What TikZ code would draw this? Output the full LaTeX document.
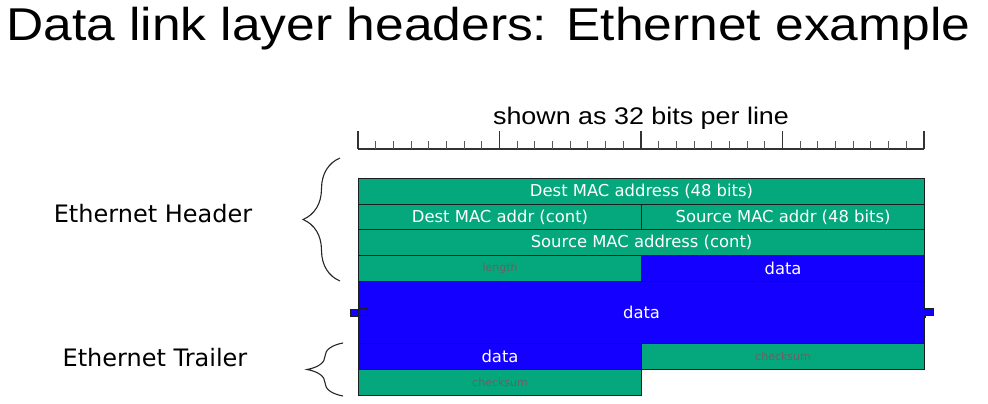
\documentclass[tikz,border=0pt]{standalone}
\usepackage{fontspec}
\setmainfont{Liberation Sans}
\newfontfamily\titlefont[FakeStretch=1.12]{Liberation Sans}
\newfontfamily\boxfont{DejaVu Sans}
\usetikzlibrary{decorations.pathreplacing}
\definecolor{eg}{RGB}{4,168,124}
\definecolor{eb}{RGB}{20,0,255}
\definecolor{smallgray}{RGB}{100,100,100}
\definecolor{edge}{RGB}{25,30,30}
\newcommand{\fieldfont}{\boxfont\fontsize{16.4}{18}\selectfont}
\newcommand{\notefont}{\boxfont\fontsize{11}{13}\selectfont}
\begin{document}
\begin{tikzpicture}[x=1pt,y=-1pt,
  field/.style={draw=edge, line width=1.1pt, anchor=north west, inner sep=0pt,
    text=white, font=\fieldfont},
  gfield/.style={field, fill=eg},
  bfield/.style={field, fill=eb},
  notetext/.style={text=smallgray, font=\notefont},
  full/.style={minimum width=566pt, minimum height=26pt},
  half/.style={minimum width=283pt, minimum height=26pt},
  tab/.style={draw=edge, line width=0.9pt, fill=eb},
  lbl/.style={font=\boxfont\fontsize{24}{28}\selectfont},
  bracedeco/.style={decorate, decoration={brace, amplitude=#1pt, aspect=0.5}, line width=1.1pt, draw=black!85}
]
\useasboundingbox (0,0) rectangle (988,404);

% title
\node[anchor=base west, inner sep=0pt, font=\titlefont\fontsize{46}{50}\selectfont] (title) at (6,41) {Data link layer headers: Ethernet example};

% ruler
\node[font=\titlefont\fontsize{24}{28}\selectfont] (scale) at (641,118) {shown as 32 bits per line};
\draw[line width=1.3pt, black!80] (358,149) -- (924,149);
\foreach \i in {0,...,32}{
  \pgfmathsetmacro{\xx}{358+\i*17.6875}
  \pgfmathtruncatemacro{\m}{mod(\i,8)}
  \ifnum\m=0
    \draw[line width=1.3pt, black!80] (\xx,131) -- (\xx,149);
  \else
    \draw[line width=1pt, black!65] (\xx,141) -- (\xx,149);
  \fi
}

% tabs behind the big data block
\draw[tab] (350,309.5) -- (358,309.5) -- (358,308) -- (367,308) -- (367,315) -- (358,315) -- (358,316.7) -- (350,316.7) -- cycle;
\draw[tab] (915.7,309.5) -- (925,309.5) -- (925,308) -- (933.3,308) -- (933.3,315.5) -- (925,315.5) -- (925,317.3) -- (915.7,317.3) -- cycle;

% fields
\node[gfield, full] (r1) at (358,178) {Dest MAC address (48 bits)};
\node[gfield, half, minimum height=25pt] (r2a) at (358,204) {Dest MAC addr (cont)};
\node[gfield, half, minimum height=25pt] (r2b) at (641,204) {Source MAC addr (48 bits)};
\node[gfield, full] (r3) at (358,229) {Source MAC address (cont)};
\node[gfield, half, notetext] (r4a) at (358,255) {length};
\node[bfield, half] (r4b) at (641,255) {data};
\node[bfield, minimum width=566pt, minimum height=62pt] (d) at (358,281) {data};
\node[bfield, half] (r6a) at (358,343) {data};
\node[gfield, half, notetext] (r6b) at (641,343) {checksum};
\node[gfield, half, notetext] (r7) at (358,369) {checksum};

% redraw tab parts overlapping the block
\fill[eb] (358.6,308.6) rectangle (366.4,314.4);
\draw[edge, line width=0.9pt] (358,308) -- (367,308) -- (367,315) -- (358,315);
\fill[eb] (924.4,310.1) rectangle (932.7,314.9);
\draw[edge, line width=0.9pt] (925,308) -- (933.3,308) -- (933.3,315.5) -- (925,315.5);

% braces
\coordinate (hb1) at (340,281);
\coordinate (hb2) at (340,158);
\coordinate (tb1) at (343,396);
\coordinate (tb2) at (343,343);
\draw[bracedeco=37] (hb1) -- (hb2);
\draw[bracedeco=36] (tb1) -- (tb2);

% labels
\node[lbl] (hdr) at (153,214) {Ethernet Header};
\node[lbl] (trl) at (155,358) {Ethernet Trailer};
\end{tikzpicture}
\end{document}
